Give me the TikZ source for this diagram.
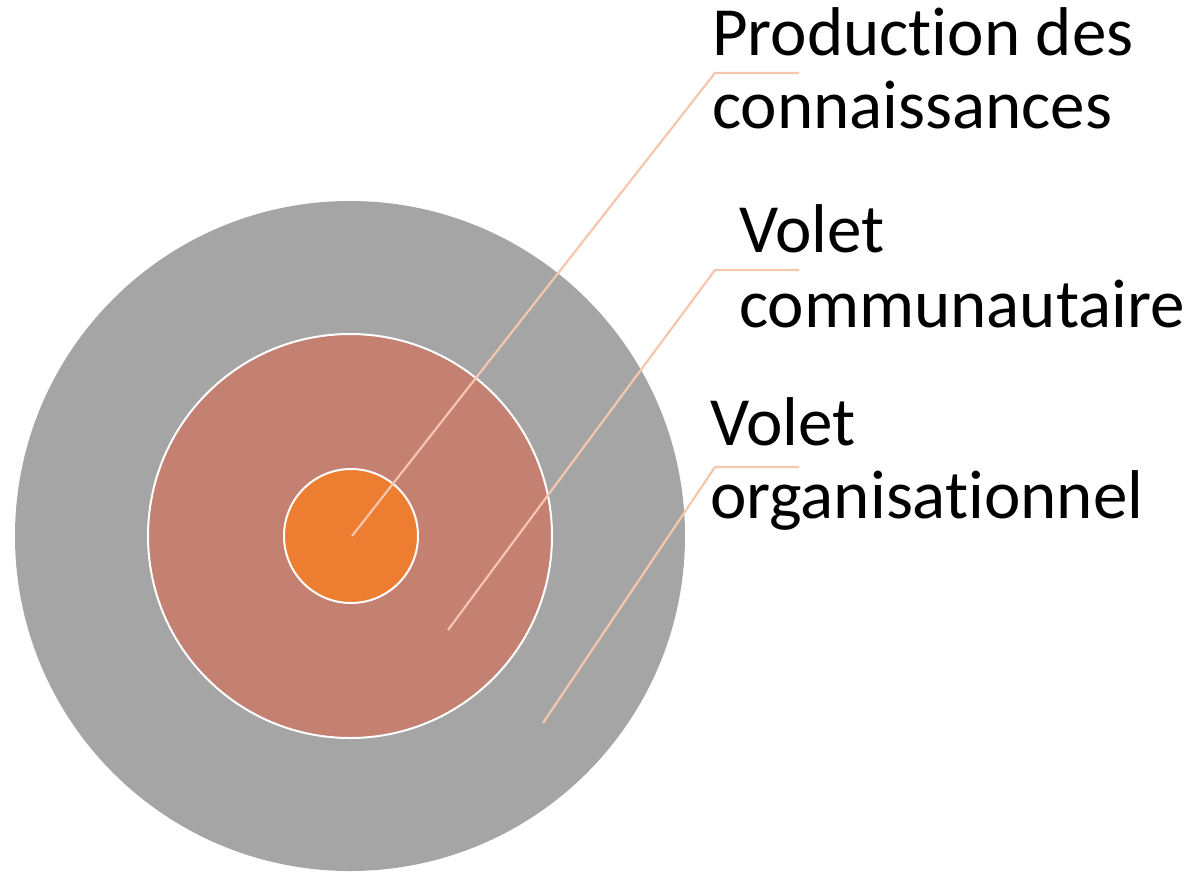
\documentclass[tikz,border=0pt]{standalone}
\usepackage{fontspec}
\setmainfont[Ligatures=NoCommon]{Carlito}
\definecolor{ringgray}{HTML}{A5A5A5}
\definecolor{ringmid}{HTML}{C48070}
\definecolor{ringcore}{HTML}{ED7D31}
\definecolor{leader}{HTML}{F6C6AE}
\begin{document}
\begin{tikzpicture}[x=1pt,y=-1pt,
  ring/.style={draw=white,line width=2pt},
  leadline/.style={draw=leader,line width=2.2pt},
  lbl/.style={anchor=base west,inner sep=0pt,font=\fontsize{69}{73}\selectfont}]
\useasboundingbox (0,0) rectangle (1194,871);
\fill[ringgray] (350,536) circle[radius=335];
\path[ring,fill=ringmid] (350,536) circle[radius=202];
\path[ring,fill=ringcore] (351,536) circle[radius=67];
\coordinate (c1) at (352,536);
\coordinate (c2) at (448,630);
\coordinate (c3) at (543,723);
\coordinate (e1) at (715,73);
\coordinate (e2) at (715,270);
\coordinate (e3) at (715,467);
\coordinate (f1) at (799,73);
\coordinate (f2) at (799,270);
\coordinate (f3) at (799,467);
\draw[leadline] (c1) -- (e1) -- (f1);
\draw[leadline] (c2) -- (e2) -- (f2);
\draw[leadline] (c3) -- (e3) -- (f3);
\node[lbl] (t1a) at (712,55) {Production des};
\node[lbl] (t1b) at (712,128) {connaissances};
\node[lbl] (t2a) at (739,252) {Volet};
\node[lbl] (t2b) at (739,327) {communautaire};
\node[lbl] (t3a) at (710,445) {Volet};
\node[lbl] (t3b) at (710,518) {organisationnel};
\end{tikzpicture}
\end{document}
